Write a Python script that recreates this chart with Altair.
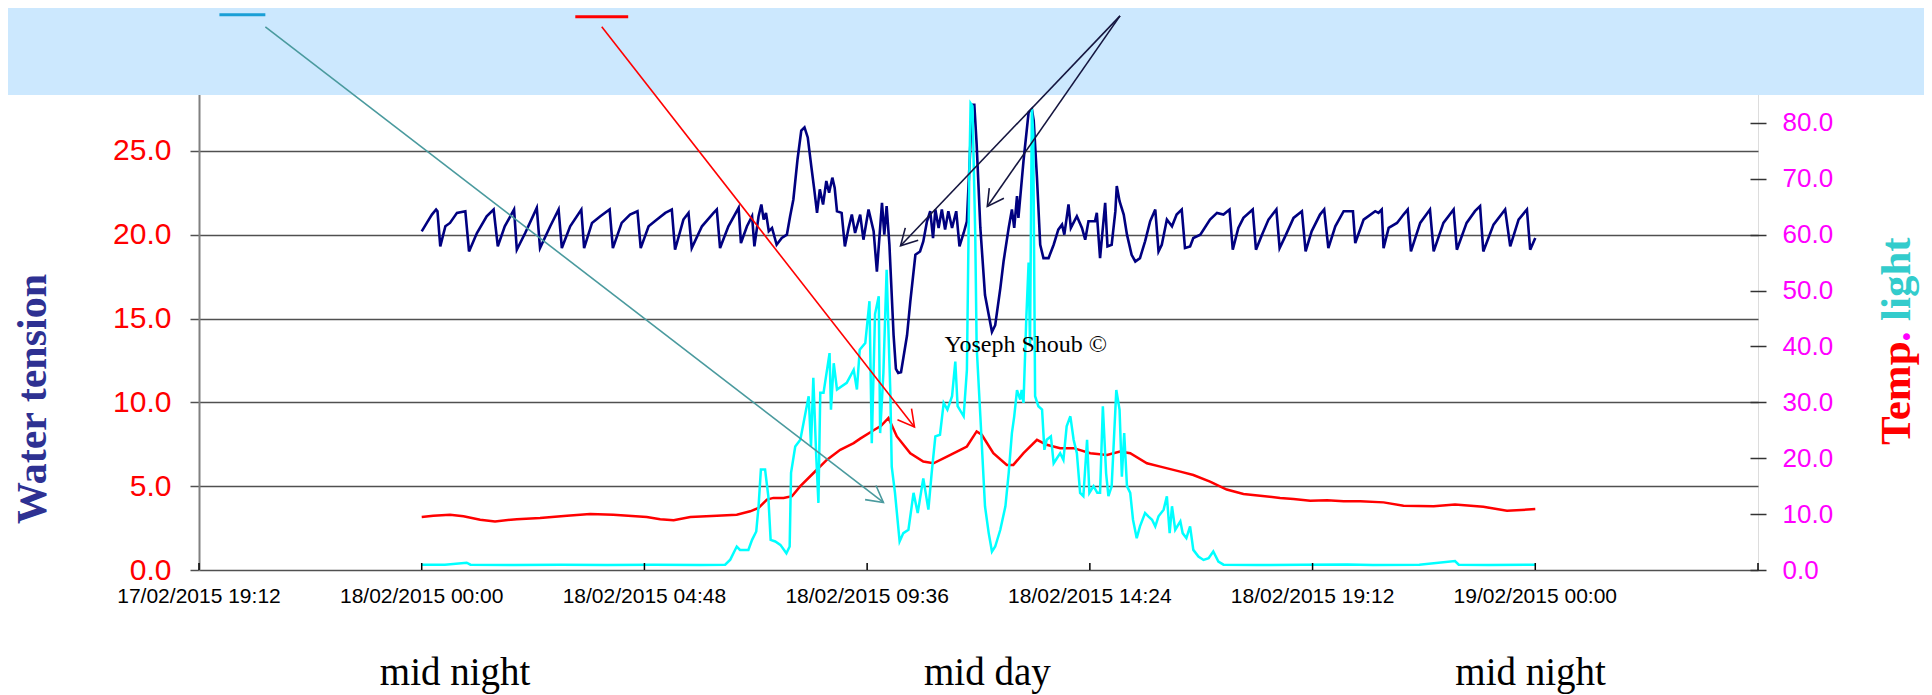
import math
import altair as alt
import pandas as pd

# ---------------- data (hours after 18/02/2015 00:00) ----------------
navy_hours = [
    0.00, 0.11, 0.22, 0.31, 0.34, 0.40, 0.51, 0.61, 0.76, 0.94,
    1.02, 1.19, 1.40, 1.55, 1.64, 1.79, 1.99, 2.05, 2.23, 2.48,
    2.55, 2.77, 2.95, 3.02, 3.20, 3.44, 3.50, 3.67, 3.85, 4.05,
    4.12, 4.31, 4.49, 4.65, 4.72, 4.89, 5.07, 5.25, 5.39, 5.46,
    5.64, 5.75, 5.82, 6.04, 6.29, 6.36, 6.43, 6.61, 6.83, 6.88,
    7.01, 7.12, 7.17, 7.26, 7.32, 7.37, 7.42, 7.48, 7.55, 7.65,
    7.76, 7.87, 7.94, 8.01, 8.10, 8.18, 8.25, 8.32, 8.40, 8.46,
    8.52, 8.58, 8.65, 8.72, 8.78, 8.85, 8.90, 8.95, 9.05, 9.12,
    9.20, 9.27, 9.34, 9.45, 9.52, 9.63, 9.74, 9.81, 9.92, 9.97,
    10.02, 10.08, 10.17, 10.22, 10.27, 10.33, 10.46, 10.53, 10.64, 10.74,
    10.81, 10.89, 10.96, 11.02, 11.07, 11.14, 11.21, 11.28, 11.35, 11.43,
    11.52, 11.59, 11.68, 11.75, 11.81, 11.86, 11.91, 11.96, 12.04, 12.14,
    12.29, 12.36, 12.47, 12.54, 12.65, 12.72, 12.77, 12.83, 12.86, 12.97,
    13.08, 13.15, 13.19, 13.26, 13.33, 13.40, 13.51, 13.62, 13.72, 13.80,
    13.85, 13.94, 13.99, 14.12, 14.23, 14.30, 14.37, 14.51, 14.55, 14.62,
    14.73, 14.78, 14.87, 14.95, 14.98, 15.04, 15.13, 15.20, 15.30, 15.38,
    15.48, 15.59, 15.70, 15.81, 15.88, 15.95, 16.06, 16.17, 16.27, 16.38,
    16.45, 16.56, 16.63, 16.78, 16.99, 17.14, 17.28, 17.41, 17.48, 17.60,
    17.71, 17.91, 17.98, 18.11, 18.25, 18.42, 18.49, 18.61, 18.79, 18.97,
    19.05, 19.18, 19.36, 19.45, 19.54, 19.69, 19.87, 20.07, 20.12, 20.30,
    20.55, 20.62, 20.69, 20.73, 20.84, 21.02, 21.16, 21.25, 21.32, 21.52,
    21.73, 21.81, 22.02, 22.24, 22.31, 22.52, 22.70, 22.81, 22.88, 23.10,
    23.35, 23.46, 23.64, 23.82, 23.89, 24.00,
]
water_tension = [
    20.2, 20.7, 21.2, 21.5, 21.4, 19.3, 20.5, 20.7, 21.3, 21.4,
    19.0, 20.1, 21.1, 21.5, 19.3, 20.5, 21.5, 19.1, 20.1, 21.6,
    19.2, 20.5, 21.5, 19.2, 20.5, 21.5, 19.2, 20.7, 21.1, 21.5,
    19.2, 20.7, 21.2, 21.4, 19.2, 20.5, 20.9, 21.3, 21.5, 19.1,
    20.9, 21.3, 19.2, 20.5, 21.3, 21.5, 19.2, 20.5, 21.6, 19.5,
    20.5, 21.1, 19.3, 21.1, 21.8, 20.9, 21.3, 20.2, 20.4, 19.4,
    19.8, 20.0, 21.1, 22.1, 24.5, 26.2, 26.4, 25.8, 24.0, 22.7,
    21.3, 22.7, 21.8, 23.2, 22.5, 23.4, 22.8, 21.4, 21.3, 19.3,
    20.4, 21.2, 20.1, 21.2, 19.7, 21.5, 20.2, 17.8, 21.9, 20.0,
    21.7, 19.4, 14.0, 12.0, 11.75, 11.8, 14.0, 16.0, 18.8, 19.0,
    19.6, 20.8, 21.4, 19.8, 21.5, 20.4, 21.5, 20.3, 21.4, 20.4,
    21.4, 19.3, 20.1, 20.8, 24.4, 27.75, 27.75, 25.4, 20.4, 16.4,
    14.2, 14.6, 16.8, 18.4, 20.4, 21.5, 20.4, 22.3, 21.0, 24.4,
    27.3, 27.5, 26.8, 23.4, 19.4, 18.6, 18.6, 19.4, 20.3, 20.6,
    20.0, 21.8, 20.4, 21.1, 20.4, 19.7, 20.8, 20.8, 21.3, 18.6,
    21.9, 19.3, 19.4, 21.4, 22.9, 22.0, 21.2, 20.0, 18.8, 18.4,
    18.6, 19.6, 20.8, 21.5, 19.0, 19.4, 20.9, 20.5, 21.2, 21.5,
    19.2, 19.3, 19.8, 20.0, 20.9, 21.3, 21.2, 21.5, 19.1, 20.4,
    21.0, 21.5, 19.1, 20.0, 20.9, 21.5, 19.2, 19.9, 21.0, 21.4,
    19.0, 20.2, 21.2, 21.5, 19.2, 20.5, 21.4, 21.4, 19.5, 20.9,
    21.4, 21.3, 21.5, 19.2, 20.4, 20.7, 21.2, 21.5, 19.0, 20.7,
    21.5, 19.0, 20.7, 21.5, 19.1, 20.7, 21.4, 21.7, 19.0, 20.6,
    21.5, 19.3, 20.9, 21.5, 19.1, 19.8,
]

light_hours = [
    0.00, 0.50, 0.97, 1.05, 2.00, 3.00, 4.00, 5.00, 6.00, 6.54,
    6.65, 6.79, 6.86, 7.04, 7.12, 7.21, 7.26, 7.31, 7.40, 7.47,
    7.52, 7.62, 7.73, 7.86, 7.93, 7.96, 8.05, 8.16, 8.27, 8.34,
    8.39, 8.44, 8.50, 8.55, 8.59, 8.66, 8.79, 8.82, 8.88, 8.95,
    9.16, 9.31, 9.38, 9.44, 9.56, 9.65, 9.70, 9.77, 9.85, 9.88,
    9.95, 10.02, 10.10, 10.13, 10.20, 10.30, 10.38, 10.49, 10.60, 10.69,
    10.81, 10.92, 10.99, 11.07, 11.17, 11.25, 11.33, 11.43, 11.50, 11.55,
    11.68, 11.75, 11.80, 11.83, 11.87, 11.93, 11.96, 12.04, 12.14, 12.22,
    12.29, 12.36, 12.47, 12.58, 12.65, 12.72, 12.77, 12.83, 12.90, 12.93,
    12.97, 13.03, 13.08, 13.11, 13.15, 13.18, 13.22, 13.29, 13.37, 13.42,
    13.47, 13.56, 13.62, 13.69, 13.76, 13.83, 13.90, 13.98, 14.05, 14.12,
    14.19, 14.26, 14.34, 14.39, 14.48, 14.56, 14.62, 14.68, 14.75, 14.80,
    14.87, 14.97, 15.04, 15.09, 15.14, 15.20, 15.27, 15.33, 15.41, 15.48,
    15.59, 15.66, 15.74, 15.81, 15.88, 15.99, 16.06, 16.12, 16.17, 16.24,
    16.35, 16.40, 16.48, 16.56, 16.63, 16.74, 16.85, 16.96, 17.06, 17.17,
    17.28, 18.00, 19.00, 19.95, 20.50, 21.50, 22.27, 22.35, 23.00, 24.00,
]
light_values = [
    0.95, 0.95, 1.3, 0.95, 0.9, 0.95, 0.9, 0.95, 0.9, 0.95,
    1.85, 4.2, 3.6, 3.6, 5.4, 6.9, 11.4, 18.0, 18.0, 13.2,
    5.4, 5.1, 4.5, 3.0, 4.2, 17.4, 22.1, 23.3, 28.1, 31.1,
    22.1, 34.4, 20.9, 12.0, 31.7, 31.7, 38.8, 28.7, 37.0, 32.3,
    33.5, 35.8, 32.3, 39.4, 40.6, 48.1, 22.7, 45.8, 49.0, 24.5,
    35.2, 53.7, 31.7, 18.5, 13.8, 5.1, 6.6, 7.2, 13.8, 10.2,
    16.4, 10.8, 17.3, 23.9, 24.2, 29.9, 28.7, 31.1, 37.3, 29.3,
    27.5, 35.8, 70.0, 83.5, 83.0, 60.0, 40.0, 27.5, 11.4, 6.6,
    3.3, 4.2, 7.2, 11.4, 17.3, 24.5, 27.5, 32.2, 30.5, 32.2,
    29.9, 45.0, 55.0, 40.0, 82.5, 78.0, 31.1, 29.3, 28.7, 21.5,
    23.3, 23.9, 19.1, 20.0, 20.9, 19.7, 25.7, 27.5, 23.3, 20.9,
    13.8, 13.2, 23.3, 13.8, 15.0, 13.8, 13.8, 29.3, 17.3, 13.2,
    15.0, 32.2, 28.7, 16.7, 24.5, 15.0, 13.8, 9.0, 5.7, 7.8,
    10.2, 9.6, 9.0, 7.8, 9.6, 10.8, 13.2, 6.6, 11.4, 7.2,
    8.7, 6.6, 5.7, 7.8, 3.6, 2.4, 1.8, 2.1, 3.3, 1.5,
    0.95, 0.9, 0.95, 1.0, 0.9, 0.95, 1.6, 0.95, 0.9, 0.95,
]

temp_hours = [
    0.00, 0.25, 0.61, 0.90, 1.26, 1.58, 2.05, 2.55, 3.13, 3.63,
    4.13, 4.85, 5.14, 5.43, 5.79, 6.36, 6.79, 7.08, 7.26, 7.44,
    7.58, 7.80, 7.98, 8.16, 8.45, 8.73, 9.02, 9.31, 9.45, 9.74,
    9.90, 10.06, 10.24, 10.53, 10.81, 11.03, 11.32, 11.61, 11.75, 11.96,
    12.07, 12.32, 12.61, 12.75, 12.97, 13.26, 13.47, 13.76, 14.05, 14.41,
    14.77, 15.05, 15.27, 15.63, 15.92, 16.35, 16.63, 16.99, 17.35, 17.71,
    18.07, 18.50, 18.79, 19.15, 19.51, 19.87, 20.23, 20.73, 21.16, 21.81,
    22.27, 22.88, 23.39, 24.00,
]
temp_values = [
    9.5, 9.7, 9.9, 9.6, 9.0, 8.7, 9.1, 9.3, 9.7, 10.0,
    9.9, 9.5, 9.1, 8.9, 9.5, 9.7, 9.9, 10.5, 11.1, 12.6,
    12.9, 12.9, 13.2, 15.0, 17.4, 19.7, 21.5, 22.7, 23.5, 25.0,
    25.8, 27.2, 23.9, 20.9, 19.4, 19.1, 20.3, 21.5, 22.1, 24.8,
    24.2, 20.9, 18.8, 18.8, 20.9, 23.3, 22.4, 21.8, 21.8, 20.9,
    20.6, 21.2, 20.9, 19.1, 18.5, 17.6, 17.0, 15.8, 14.4, 13.6,
    13.3, 12.9, 12.7, 12.4, 12.5, 12.3, 12.3, 12.1, 11.5, 11.4,
    11.7, 11.3, 10.6, 10.9,
]

# axes
x_tick_hours = [-4.8, 0.0, 4.8, 9.6, 14.4, 19.2, 24.0]
x_tick_labels = ["17/02/2015 19:12", "18/02/2015 00:00", "18/02/2015 04:48",
                 "18/02/2015 09:36", "18/02/2015 14:24", "18/02/2015 19:12",
                 "19/02/2015 00:00"]
x_label_level = -1.97
x_all_ticks = [-4.8, 0.0, 4.8, 9.6, 14.4, 19.2, 24.0, 28.8]
left_ticks = [0, 5, 10, 15, 20, 25, 30]
right_ticks = [0, 10, 20, 30, 40, 50, 60, 70, 80, 90]

# annotations (hours, water-tension units)
bottom_texts = ["mid night", "mid day", "mid night"]
bottom_text_hours = [0.72, 12.19, 23.90]
bottom_text_level = [-6.85, -6.85, -6.85]

watermark_text = ["Yoseph Shoub \u00a9"]
watermark_hour = [13.02]
watermark_level = [12.98]

arrow_colors = ["#4A9A9E", "#FF0000", "#15153F", "#15153F"]
arrow_from_hour = [-3.37, 3.88, 15.05, 15.05]
arrow_from_level = [32.40, 32.40, 33.05, 33.05]
arrow_to_hour = [9.95, 10.62, 10.32, 12.19]
arrow_to_level = [4.03, 8.53, 19.34, 21.68]

dash_colors = ["#1A9FD6", "#FF0000"]
dash_from_hour = [-4.36, 3.31]
dash_to_hour = [-3.37, 4.45]
dash_level = [33.11, 33.0]

assert len(navy_hours) == len(water_tension)
assert len(light_hours) == len(light_values)
assert len(temp_hours) == len(temp_values)

# ---------------- layout ----------------
W, H = 1559, 503
XDOM = [-4.8, 28.8]
YL = [0, 30]
YR = [0, 90]

xs = alt.Scale(domain=XDOM, nice=False, zero=False)
yls = alt.Scale(domain=YL, nice=False, zero=False)
yrs = alt.Scale(domain=YR, nice=False, zero=False)

x_axis = alt.Axis(values=x_tick_hours, labels=False, title=None, grid=False,
                  ticks=False, tickSize=0, domainColor="#000000", domainWidth=1.5)

yl_axis = alt.Axis(orient="left", values=left_ticks, format=".1f", title=None,
                   grid=True, gridColor="#505050", gridWidth=1.5,
                   ticks=True, tickSize=9, tickColor="#505050", tickWidth=1.5,
                   domainColor="#808080", domainWidth=2,
                   labelFont="Liberation Sans", labelFontSize=30, labelColor="#FF0000",
                   labelPadding=19, labelFlush=False, labelOverlap=False)

yr_axis = alt.Axis(orient="right", values=right_ticks, format=".1f", title=None,
                   grid=False, domain=False, offset=-8,
                   ticks=True, tickSize=16, tickColor="#333333", tickWidth=1.5,
                   labelFont="Liberation Sans", labelFontSize=26, labelColor="#FF00FF",
                   labelPadding=16, labelFlush=False, labelOverlap=False)

# ---------------- series ----------------
navy_df = pd.DataFrame({"hour": navy_hours, "value": water_tension})
temp_df = pd.DataFrame({"hour": temp_hours, "value": temp_values})
light_df = pd.DataFrame({"hour": light_hours, "value": light_values})

navy = alt.Chart(navy_df).mark_line(color="#000080", strokeWidth=2.6).encode(
    x=alt.X("hour:Q", scale=xs, axis=x_axis),
    y=alt.Y("value:Q", scale=yls, axis=yl_axis),
)

temp = alt.Chart(temp_df).mark_line(color="#FF0000", strokeWidth=2.5).encode(
    x=alt.X("hour:Q", scale=xs, axis=None),
    y=alt.Y("value:Q", scale=yrs, axis=yr_axis),
)
light = alt.Chart(light_df).mark_line(color="#00FFFF", strokeWidth=2.5).encode(
    x=alt.X("hour:Q", scale=xs, axis=None),
    y=alt.Y("value:Q", scale=yrs, axis=yr_axis),
)
right = alt.layer(temp, light)

# ---------------- annotations ----------------
one = pd.DataFrame({"k": [0]})

banner = alt.Chart(one).mark_rect(color="#CCE8FE", clip=False).encode(
    x=alt.value(-220), x2=alt.value(W + 220), y=alt.value(-80), y2=alt.value(28)
)

xtick_df = pd.DataFrame({"hour": x_all_ticks})
xticks = alt.Chart(xtick_df).mark_rule(color="#000000", strokeWidth=1.5).encode(
    x=alt.X("hour:Q", scale=xs, axis=None), y=alt.value(H - 7), y2=alt.value(H)
)

xlab_df = pd.DataFrame({"h": x_tick_hours, "t": x_tick_labels,
                        "v": [x_label_level] * len(x_tick_hours)})
xlabels = alt.Chart(xlab_df).mark_text(
    font="Liberation Sans", fontSize=21, color="#000000", align="center",
    baseline="alphabetic", clip=False,
).encode(
    x=alt.X("h:Q", scale=xs, axis=None), y=alt.Y("v:Q", scale=yls, axis=None), text="t:N"
)

dash_df = pd.DataFrame({"h1": dash_from_hour, "h2": dash_to_hour, "v": dash_level,
                        "col": dash_colors})
dashes = alt.Chart(dash_df).mark_rule(strokeWidth=3, clip=False).encode(
    x=alt.X("h1:Q", scale=xs, axis=None), x2="h2:Q",
    y=alt.Y("v:Q", scale=yls, axis=None),
    color=alt.Color("col:N", scale=None, legend=None),
)

px_h = W / (XDOM[1] - XDOM[0])
px_v = H / (YL[1] - YL[0])
angles = [math.degrees(math.atan2(-(v2 - v1) * px_v, (h2 - h1) * px_h))
          for h1, v1, h2, v2 in zip(arrow_from_hour, arrow_from_level,
                                    arrow_to_hour, arrow_to_level)]
arrow_df = pd.DataFrame({"h1": arrow_from_hour, "v1": arrow_from_level,
                         "h2": arrow_to_hour, "v2": arrow_to_level,
                         "col": arrow_colors, "ang": angles})
shafts = alt.Chart(arrow_df).mark_rule(strokeWidth=1.6, clip=False).encode(
    x=alt.X("h1:Q", scale=xs, axis=None), y=alt.Y("v1:Q", scale=yls, axis=None),
    x2="h2:Q", y2="v2:Q",
    color=alt.Color("col:N", scale=None, legend=None),
)
heads = alt.Chart(arrow_df).mark_point(
    shape="M -1 -0.55 L 0 0 L -1 0.55", filled=False, size=1050,
    strokeWidth=1.6, opacity=1, clip=False,
).encode(
    x=alt.X("h2:Q", scale=xs, axis=None), y=alt.Y("v2:Q", scale=yls, axis=None),
    angle=alt.Angle("ang:Q", scale=None),
    color=alt.Color("col:N", scale=None, legend=None),
)

wm_df = pd.DataFrame({"t": watermark_text, "h": watermark_hour, "v": watermark_level})
wm = alt.Chart(wm_df).mark_text(font="Liberation Serif", fontSize=24, color="#000000",
                                align="center", baseline="alphabetic", clip=False).encode(
    x=alt.X("h:Q", scale=xs, axis=None), y=alt.Y("v:Q", scale=yls, axis=None), text="t:N"
)

bt_df = pd.DataFrame({"t": bottom_texts, "h": bottom_text_hours, "v": bottom_text_level})
bt = alt.Chart(bt_df).mark_text(font="Liberation Serif", fontSize=39, color="#000000",
                                align="center", baseline="alphabetic", clip=False).encode(
    x=alt.X("h:Q", scale=xs, axis=None), y=alt.Y("v:Q", scale=yls, axis=None), text="t:N"
)

left_title = alt.Chart(one).mark_text(
    text="Water tension", font="Liberation Serif", fontSize=42, fontWeight="bold",
    color="#2E3192", angle=270, align="center", baseline="alphabetic",
).encode(x=alt.value(-153), y=alt.value(332))

rt1 = alt.Chart(one).mark_text(
    text="Temp", font="Liberation Serif", fontSize=43, fontWeight="bold",
    color="#FF0000", angle=270, align="left", baseline="alphabetic",
).encode(x=alt.value(1711), y=alt.value(378))
rt2 = alt.Chart(one).mark_text(
    text=".", font="Liberation Serif", fontSize=43, fontWeight="bold",
    color="#FF00FF", angle=270, align="left", baseline="alphabetic",
).encode(x=alt.value(1711), y=alt.value(275))
rt3 = alt.Chart(one).mark_text(
    text="light", font="Liberation Serif", fontSize=43, fontWeight="bold",
    color="#33CCCC", angle=270, align="left", baseline="alphabetic",
).encode(x=alt.value(1711), y=alt.value(254))

annot = alt.layer(banner, xticks, xlabels, dashes, shafts, heads, wm, bt,
                  left_title, rt1, rt2, rt3)

chart = alt.layer(navy, right, annot).resolve_scale(y="independent").properties(
    width=W, height=H,
    autosize=alt.AutoSizeParams(type="none"),
    padding={"left": 191, "top": 59, "right": 166, "bottom": 125},
).configure_view(stroke="#808080", strokeWidth=2).configure(background="white")

chart.save("out.html", embed_options={"renderer": "svg", "actions": False})
